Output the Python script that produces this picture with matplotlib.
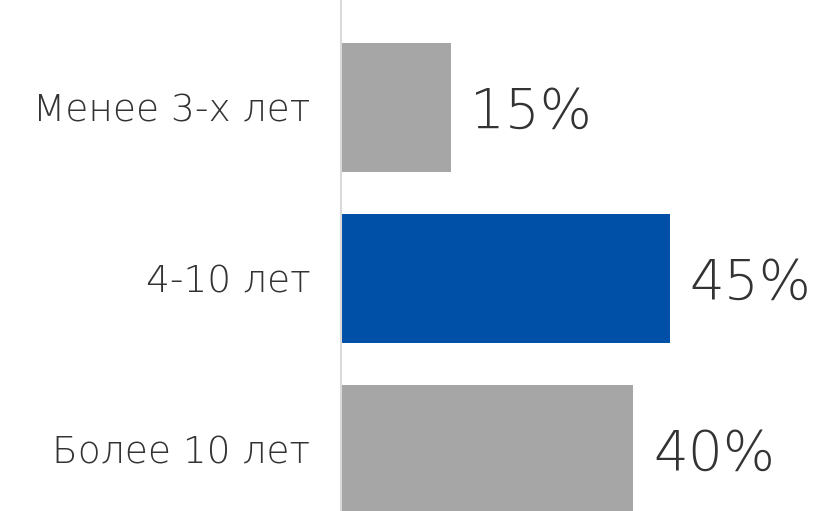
import matplotlib
matplotlib.use("Agg")
import matplotlib.pyplot as plt

categories = ["Менее 3-х лет", "4-10 лет", "Более 10 лет"]
values = [15, 45, 40]
colors = ["#a6a6a6", "#0050a8", "#a6a6a6"]

plt.rcParams['font.family'] = ['DejaVu Sans']

fig = plt.figure(figsize=(8.26, 5.11), dpi=100)
ax = fig.add_axes([341 / 826, 0, 485 / 826, 1])

pos = list(range(len(categories)))
ax.barh(pos, values, height=0.754, color=colors)

ax.set_xlim(0, 485 / 7.31)
ax.set_ylim(2.3596, -0.6287)

for p, v in zip(pos, values):
    ax.text(v + 2.7, p + 0.03, f"{v}%", va='center', ha='left',
            fontsize=39.5, fontweight=200, color='#333333')

ax.set_yticks(pos)
ax.set_yticklabels(categories, fontsize=27, fontweight=200, color='#333333')
ax.tick_params(axis='y', length=0, pad=22)
ax.set_xticks([])

for s in ['top', 'right', 'bottom']:
    ax.spines[s].set_visible(False)
ax.spines['left'].set_color('#d9d9d9')
ax.spines['left'].set_linewidth(1.5)

fig.savefig("out.png", dpi=100)
